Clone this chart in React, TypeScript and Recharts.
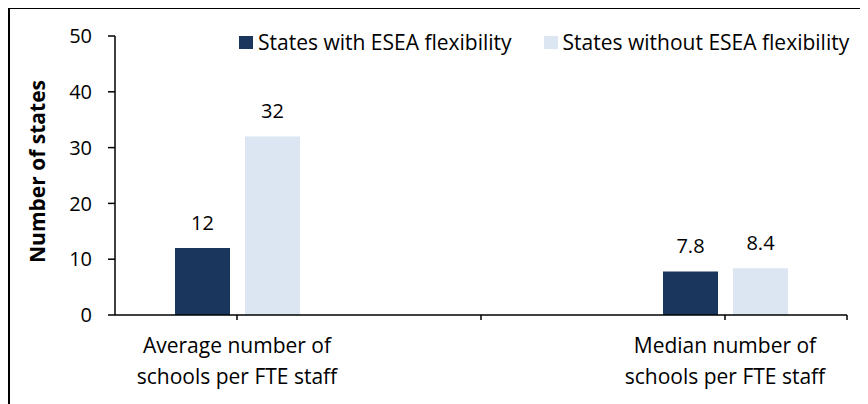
import React from 'react';
import { BarChart, Bar, XAxis, YAxis, Legend, LabelList, Label } from 'recharts';

const categories = ['Average number of\nschools per FTE staff', '', 'Median number of\nschools per FTE staff'];
const withFlex = [12, null, 7.8];
const withoutFlex = [32, null, 8.4];
const yTicks = [0, 10, 20, 30, 40, 50];
const seriesNames = ['States with ESEA flexibility', 'States without ESEA flexibility'];

const DARK = '#1a365d';
const LIGHT = '#dce6f2';
const FONT = '"Open Sans", sans-serif';

const data = categories.map((name, i) => ({
  name,
  with: withFlex[i],
  without: withoutFlex[i],
}));

const fmt = (v: any) => (v === null || v === undefined ? '' : String(v));

const CategoryTick = (props: any) => {
  const { x, y, payload, index } = props;
  const lines = String(payload.value).split('\n');
  return (
    <g>
      {lines[0] !== '' &&
        lines.map((line: string, i: number) => (
          <text key={i} x={x} y={y + 31 + i * 31} textAnchor="middle" fontSize={21} fontFamily={FONT} fill="#000">
            {line}
          </text>
        ))}
      {index === categories.length - 1 && (
        <line x1={x + payload.offset} x2={x + payload.offset} y1={y - 7} y2={y - 2} stroke="#000" strokeWidth={1.5} />
      )}
    </g>
  );
};

const LegendContent = () => (
  <div style={{ display: 'flex', fontFamily: FONT, fontSize: 21, color: '#000', whiteSpace: 'nowrap' }}>
    {seriesNames.map((n, i) => (
      <div key={n} style={{ display: 'flex', alignItems: 'center', marginRight: i === 0 ? 32 : 0 }}>
        <span style={{ width: 14, height: 13, background: i === 0 ? DARK : LIGHT, marginRight: 5, display: 'inline-block' }} />
        <span>{n}</span>
      </div>
    ))}
  </div>
);

export default function App() {
  return (
    <div style={{ borderTop: '2px solid #000', borderLeft: '2px solid #000', width: 870, height: 400, marginTop: -1 }}>
      <BarChart
        width={858}
        height={394}
        data={data}
        margin={{ top: 27, right: 21, left: 35, bottom: 18 }}
        barSize={55}
        barGap={15}
      >
        <XAxis
          dataKey="name"
          interval={0}
          height={70}
          axisLine={{ stroke: '#000', strokeWidth: 1.5 }}
          tickLine={{ stroke: '#000', strokeWidth: 1.5 }}
          tickSize={5}
          tick={<CategoryTick />}
        />
        <YAxis
          width={70}
          domain={[0, 50]}
          ticks={yTicks}
          interval={0}
          axisLine={{ stroke: '#000', strokeWidth: 1.5 }}
          tickLine={{ stroke: '#000', strokeWidth: 1.5 }}
          tickSize={7}
          tickMargin={16}
          tick={{ fontSize: 20, fontFamily: FONT, fill: '#000' }}
        >
          <Label
            content={(p: any) => {
              const vb = p.viewBox || {};
              const cy = (vb.y || 0) + (vb.height || 0) / 2 - 4;
              return (
                <text
                  x={35}
                  y={cy}
                  transform={`rotate(-90 35 ${cy})`}
                  textAnchor="middle"
                  fontSize={21}
                  fontWeight="bold"
                  fontFamily={FONT}
                  fill="#000"
                >
                  Number of states
                </text>
              );
            }}
          />
        </YAxis>
        <Legend
          layout="horizontal"
          verticalAlign="middle"
          align="center"
          content={<LegendContent />}
          wrapperStyle={{ top: 19, left: 229, width: 'auto' }}
        />
        <Bar dataKey="with" name={seriesNames[0]} fill={DARK} isAnimationActive={false}>
          <LabelList dataKey="with" position="top" offset={18} formatter={fmt} fontSize={20} fontFamily={FONT} fill="#000" />
        </Bar>
        <Bar dataKey="without" name={seriesNames[1]} fill={LIGHT} isAnimationActive={false}>
          <LabelList dataKey="without" position="top" offset={18} formatter={fmt} fontSize={20} fontFamily={FONT} fill="#000" />
        </Bar>
      </BarChart>
    </div>
  );
}
